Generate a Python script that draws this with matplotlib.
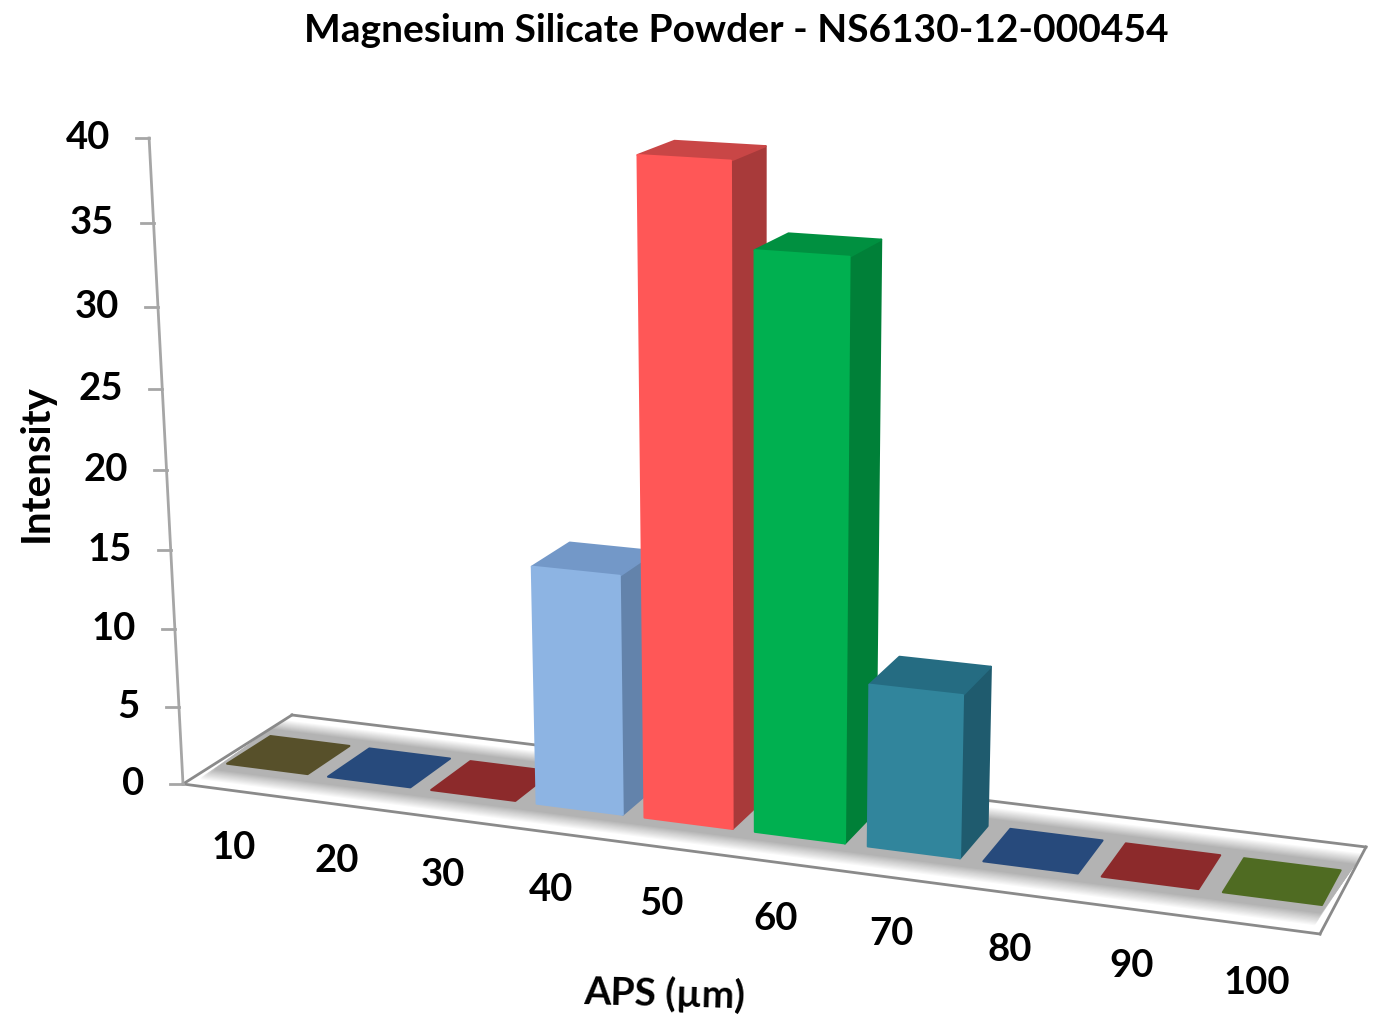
#!/usr/bin/env python
import numpy as np
from matplotlib import pyplot as plt
from matplotlib.colors import to_rgb

categories = ['10', '20', '30', '40', '50', '60', '70', '80', '90', '100']
intensity = [0, 0, 0, 15, 40, 35, 10, 0, 0, 0]
z_ticks = [0, 5, 10, 15, 20, 25, 30, 35, 40]

front_colors = ['#57502a', '#274a7c', '#8c2a2b', '#8db4e3', '#ff5757',
                '#00b050', '#31859c', '#274a7c', '#8c2a2b', '#4f6b22']
side_colors = ['#57502a', '#274a7c', '#8c2a2b', '#6383ab', '#a83a3a',
               '#008038', '#1f5b6e', '#274a7c', '#8c2a2b', '#4f6b22']
top_colors = ['#57502a', '#274a7c', '#8c2a2b', '#7398c8', '#c94646',
              '#009040', '#256c82', '#274a7c', '#8c2a2b', '#4f6b22']

# perspective set up from the floor corners and the vertical vanishing point
floor_xy = np.array([[0, 0], [10, 0], [10, 1], [0, 1]], dtype=float)
floor_px = np.array([[183, 784], [1320, 934], [1366, 847], [292, 715]], dtype=float)
vanish = np.array([760.0, 11780.0, 1.0])
z_top_y = 138.0


def floor_matrix():
    a, b = [], []
    for (x, y), (u, v) in zip(floor_xy, floor_px):
        a.append([x, y, 1, 0, 0, 0, -u * x, -u * y])
        a.append([0, 0, 0, x, y, 1, -v * x, -v * y])
        b += [u, v]
    h = np.linalg.solve(np.array(a), np.array(b))
    return np.append(h, 1).reshape(3, 3)


H = floor_matrix()
h0 = H[:, 2]
# scale of the z direction so that z=40 lands on the top of the axis
s = (h0[1] - z_top_y * h0[2]) / (z_top_y * vanish[2] - vanish[1]) / 40.0
Pz = s * vanish


def project(x, y, z=0.0):
    p = H @ np.array([x, y, 1.0]) + z * Pz
    return p[0] / p[2], p[1] / p[2]


def face(ax, pts, color, zorder=3):
    ax.fill(*zip(*[project(*p) for p in pts]), facecolor=color, edgecolor=color,
            linewidth=1.5, joinstyle='round', zorder=zorder)


fig = plt.figure(figsize=(13.88, 10.28), dpi=100)
ax = fig.add_axes([0, 0, 1, 1])
ax.set_xlim(0, 1388)
ax.set_ylim(1028, 0)
ax.axis('off')

font = 'Lato'
ax.text(736, 30, 'Magnesium Silicate Powder - NS6130-12-000454', ha='center', va='center',
        fontsize=28, fontweight='bold', family=font, color='#000000')
ax.text(36, 463, 'Intensity', rotation=90, ha='center', va='center',
        fontsize=29, fontweight='bold', family=font, color='#000000')
ax.text(664, 994, 'APS (µm)', rotation=-1.5, ha='center', va='center',
        fontsize=28, fontweight='bold', family=font, color='#000000')

# floor
ax.fill(*zip(*[project(x, y) for x, y in floor_xy]), facecolor='white', zorder=1)
y0, y1 = 0.22, 0.78
layers = 12
for i in range(layers):
    t = i / (layers - 1)
    c = tuple(1 - t * (1 - v) for v in to_rgb('#b3b3b3'))
    grow = 0.14 * (1 - t)
    face(ax, [(0.08, y0 - grow, 0), (9.92, y0 - grow, 0), (9.98, y1 + grow, 0), (0.02, y1 + grow, 0)], c, 1.5)
for a, b in zip(floor_xy, np.roll(floor_xy, -1, axis=0)):
    ax.plot(*zip(project(*a), project(*b)), color='#8a8a8a', lw=2, zorder=2)

# value axis
ax.plot(*zip(project(0, 0, 0), project(0, 0, 40)), color='#a6a6a6', lw=2, zorder=2)
for z in z_ticks:
    px, py = project(0, 0, z)
    ax.plot([px - 13, px], [py, py], color='#a6a6a6', lw=2, zorder=2)
    ax.annotate(str(z), (px, py), xytext=(-39, 0), textcoords='offset pixels', ha='right',
                va='center', fontsize=27.5, fontweight='bold', family=font, color='#000000')

# columns
gap, yf, yb = 0.1, 0.3, 0.7
for i, z in enumerate(intensity):
    x0, x1 = i + gap, i + 1 - gap
    if z > 0:
        face(ax, [(x1, yf, 0), (x1, yb, 0), (x1, yb, z), (x1, yf, z)], side_colors[i])
    face(ax, [(x0, yf, z), (x1, yf, z), (x1, yb, z), (x0, yb, z)], top_colors[i])
    if z > 0:
        face(ax, [(x0, yf, 0), (x1, yf, 0), (x1, yf, z), (x0, yf, z)], front_colors[i])
    ax.annotate(categories[i], project(i + 0.5, 0), xytext=(0, -57), textcoords='offset pixels',
                ha='center', va='center', fontsize=27.5, fontweight='bold', family=font, color='#000000')

fig.savefig('out.png', dpi=100)
